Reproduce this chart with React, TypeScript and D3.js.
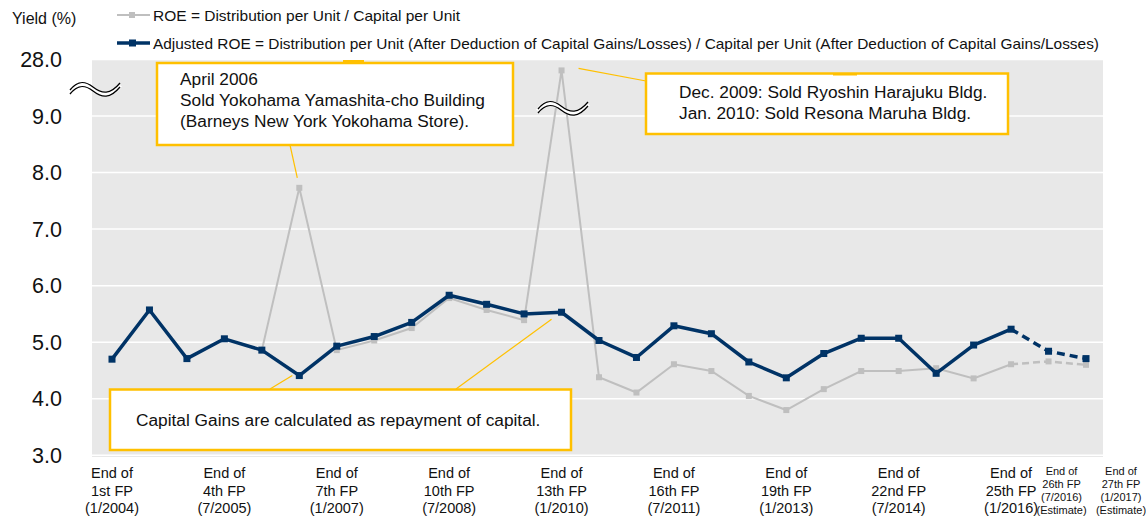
import React from "react";
import * as d3 from "d3";

const periods = ["1st","2nd","3rd","4th","5th","6th","7th","8th","9th","10th","11th","12th","13th","14th","15th","16th","17th","18th","19th","20th","21st","22nd","23rd","24th","25th","26th","27th"];
const roe = [4.70,5.57,4.71,5.06,4.86,7.73,4.86,5.03,5.25,5.78,5.57,5.39,24.3,4.38,4.11,4.61,4.49,4.05,3.80,4.17,4.49,4.49,4.54,4.36,4.61,4.66,4.60];
const adjusted = [4.70,5.57,4.71,5.06,4.86,4.41,4.93,5.10,5.35,5.83,5.67,5.50,5.53,5.03,4.73,5.29,5.15,4.65,4.37,4.80,5.07,5.07,4.45,4.95,5.23,4.84,4.71];
const actualCount = 25; // periods 26 and 27 are estimates

const yTicks = [3, 4, 5, 6, 7, 8, 9, 28];
const tickLabels = [
  { i: 0, lines: ["End of", "1st FP", "(1/2004)"] },
  { i: 3, lines: ["End of", "4th FP", "(7/2005)"] },
  { i: 6, lines: ["End of", "7th FP", "(1/2007)"] },
  { i: 9, lines: ["End of", "10th FP", "(7/2008)"] },
  { i: 12, lines: ["End of", "13th FP", "(1/2010)"] },
  { i: 15, lines: ["End of", "16th FP", "(7/2011)"] },
  { i: 18, lines: ["End of", "19th FP", "(1/2013)"] },
  { i: 21, lines: ["End of", "22nd FP", "(7/2014)"] },
  { i: 24, lines: ["End of", "25th FP", "(1/2016)"] },
];
const estLabels = [
  { i: 25, lines: ["End of", "26th FP", "(7/2016)", "(Estimate)"] },
  { i: 26, lines: ["End of", "27th FP", "(1/2017)", "(Estimate)"] },
];
const legendItems = [
  "ROE = Distribution per Unit / Capital per Unit",
  "Adjusted ROE = Distribution per Unit (After Deduction of Capital Gains/Losses) / Capital per Unit (After Deduction of Capital Gains/Losses)",
];
const note1 = ["April 2006", "Sold Yokohama Yamashita-cho Building", "(Barneys New York Yokohama Store)."];
const note2 = ["Dec. 2009: Sold Ryoshin Harajuku Bldg.", "Jan. 2010: Sold Resona Maruha Bldg."];
const note3 = "Capital Gains are calculated as repayment of capital.";

const FONT = "'Liberation Sans', Arial, sans-serif";
const NAVY = "#003366";
const GRAY = "#BFBFBF";
const YEL = "#FFC000";

const W = 1146, H = 517;
const plot = { left: 92, right: 1103, top: 59, bottom: 457 };

export default function App() {
  const x = d3.scalePoint<number>().domain(d3.range(periods.length)).range([112, 1086]);
  const y = d3.scaleLinear().domain([3, 9, 28]).range([455.3, 116, 59.4]);

  const solidIdx = d3.range(actualCount);
  const dashIdx = d3.range(actualCount - 1, periods.length);
  const seg = (arr: number[], idx: number[]) =>
    d3.line<number>().x((i) => x(i)!).y((i) => y(arr[i]))(idx) || "";

  const brk = (cx: number, cy: number, key: string) => {
    const p = (dy: number) =>
      `M${cx - 25},${cy + 3 + dy} C${cx - 18},${cy - 6 + dy} ${cx - 11},${cy - 7 + dy} ${cx - 2},${cy + dy} S${cx + 15},${cy + 8 + dy} ${cx + 25},${cy - 4 + dy}`;
    return (
      <g key={key}>
        <path d={p(2)} fill="none" stroke="white" strokeWidth={5} />
        <path d={p(0)} fill="none" stroke="black" strokeWidth={1.3} />
        <path d={p(4)} fill="none" stroke="black" strokeWidth={1.3} />
      </g>
    );
  };

  return (
    <div style={{ position: "absolute", left: 0, top: 0 }}>
      <svg width={W} height={H} style={{ display: "block", fontFamily: FONT }}>
        <rect x={0} y={0} width={W} height={H} fill="white" />
        <rect x={plot.left} y={plot.top} width={plot.right - plot.left} height={plot.bottom - plot.top} fill="#E8E8E8" />
        {yTicks.map((t) => (
          <line key={"g" + t} x1={plot.left} x2={plot.right} y1={y(t)} y2={y(t)} stroke="white" strokeWidth={1.5} />
        ))}
        {yTicks.map((t) => (
          <text key={"yt" + t} x={62} y={y(t)} dy="0.36em" textAnchor="end" fontSize={21.5} fill="#111">
            {t.toFixed(1)}
          </text>
        ))}
        <text x={12} y={24} fontSize={16} fill="#111">Yield (%)</text>

        {/* legend */}
        <line x1={117} x2={150} y1={15} y2={15} stroke={GRAY} strokeWidth={2} />
        <rect x={129} y={12} width={6} height={6} fill={GRAY} />
        <text x={153} y={20.5} fontSize={14.5} fill="#111" textLength={307} lengthAdjust="spacingAndGlyphs">{legendItems[0]}</text>
        <line x1={117} x2={150} y1={43} y2={43} stroke={NAVY} strokeWidth={3.5} />
        <rect x={129} y={39.5} width={7} height={7} fill={NAVY} />
        <text x={153} y={48.5} fontSize={14.5} fill="#111" textLength={946} lengthAdjust="spacingAndGlyphs">{legendItems[1]}</text>

        {/* ROE series */}
        <path d={seg(roe, solidIdx)} fill="none" stroke={GRAY} strokeWidth={2} />
        <path d={seg(roe, dashIdx)} fill="none" stroke={GRAY} strokeWidth={2.5} strokeDasharray="7,4" />
        {roe.map((v, i) => (
          <rect key={"rm" + i} x={x(i)! - 3} y={y(v) - 3} width={6} height={6} fill={GRAY} />
        ))}

        {/* Adjusted series */}
        <path d={seg(adjusted, solidIdx)} fill="none" stroke={NAVY} strokeWidth={3.5} strokeLinejoin="round" />
        <path d={seg(adjusted, dashIdx)} fill="none" stroke={NAVY} strokeWidth={3.5} strokeDasharray="8,5" />
        {adjusted.map((v, i) => (
          <rect key={"am" + i} x={x(i)! - 3.5} y={y(v) - 3.5} width={7} height={7} fill={NAVY} />
        ))}

        {brk(95, 87, "b1")}
        {brk(563, 106, "b2")}

        {/* annotation 1 */}
        <line x1={290} y1={145} x2={x(5)! - 2} y2={y(roe[5]) - 10} stroke={YEL} strokeWidth={1.2} />
        <rect x={157} y={63} width={356} height={82} fill="white" stroke={YEL} strokeWidth={2.5} />
        <rect x={343} y={60} width={21} height={2.5} fill={YEL} />
        {note1.map((s, k) => (
          <text key={"n1" + k} x={180} y={85 + k * 21} fontSize={17.3} fill="#111">{s}</text>
        ))}

        {/* annotation 2 */}
        <line x1={x(12)! + 17} y1={y(roe[12]) - 2} x2={646} y2={81} stroke={YEL} strokeWidth={1.2} />
        <rect x={646} y={73.5} width={362} height={60.5} fill="white" stroke={YEL} strokeWidth={2.5} />
        <rect x={833} y={73.5} width={24} height={2} fill={YEL} />
        {note2.map((s, k) => (
          <text key={"n2" + k} x={679} y={97.5 + k * 21} fontSize={17.3} fill="#111">{s}</text>
        ))}

        {/* annotation 3 */}
        <line x1={270} y1={389} x2={x(5)! - 7} y2={y(adjusted[5])} stroke={YEL} strokeWidth={1.2} />
        <line x1={456} y1={389} x2={x(12)! - 10} y2={y(adjusted[12]) + 7} stroke={YEL} strokeWidth={1.2} />
        <rect x={110} y={389.5} width={461} height={60.5} fill="white" stroke={YEL} strokeWidth={2.5} />
        <text x={136} y={425.5} fontSize={17.3} fill="#111">{note3}</text>

        {/* x labels */}
        {tickLabels.map((t) => (
          <text key={"xl" + t.i} x={x(t.i)!} textAnchor="middle" fontSize={14.5} fill="#111">
            {t.lines.map((l, k) => (
              <tspan key={k} x={x(t.i)!} y={478 + k * 17.5}>{l}</tspan>
            ))}
          </text>
        ))}
        {estLabels.map((t, j) => {
          const cx = j === 0 ? x(t.i)! + 13 : x(t.i)! + 35;
          return (
            <text key={"el" + t.i} x={cx} textAnchor="middle" fontSize={11} fill="#111">
              {t.lines.map((l, k) => (
                <tspan key={k} x={cx} y={475 + k * 13}>{l}</tspan>
              ))}
            </text>
          );
        })}
      </svg>
    </div>
  );
}
